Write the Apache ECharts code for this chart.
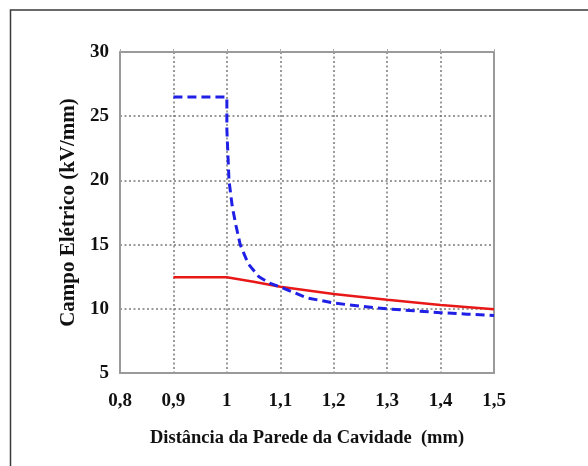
<!DOCTYPE html>
<html>
<head>
<meta charset="utf-8">
<script src="https://cdn.jsdelivr.net/npm/echarts@6/dist/echarts.min.js"></script>
<style>
  html, body { margin: 0; padding: 0; background: #fff; }
  #chart { width: 588px; height: 466px; }
</style>
</head>
<body>
<div id="chart"></div>
<script>
// Distance from the cavity wall (mm) and electric field (kV/mm)
const dashedX = [0.9, 1.0, 1.0, 1.002, 1.004, 1.01, 1.017, 1.025, 1.04, 1.06, 1.08, 1.1, 1.15, 1.2, 1.25, 1.3, 1.35, 1.4, 1.45, 1.5];
const dashedY = [26.5, 26.5, 24.0, 22.0, 20.0, 18.0, 16.5, 15.0, 13.5, 12.5, 12.0, 11.7, 10.85, 10.45, 10.2, 10.0, 9.85, 9.7, 9.58, 9.48];
const solidX = [0.9, 1.0, 1.05, 1.1, 1.2, 1.3, 1.4, 1.5];
const solidY = [12.45, 12.45, 12.1, 11.72, 11.15, 10.7, 10.3, 9.96];
const xTicks = { min: 0.8, max: 1.5, step: 0.1 };
const yTicks = { min: 5, max: 30, step: 5 };
const xTitle = 'Distância da Parede da Cavidade  (mm)';
const yTitle = 'Campo Elétrico (kV/mm)';

const pairs = (xs, ys) => xs.map((x, i) => [x, ys[i]]);
const serif = '"Liberation Serif", "Times New Roman", serif';
const gridLine = { show: true, lineStyle: { color: '#7a7a7a', type: [2, 2.5], width: 1.5 } };

const chart = echarts.init(document.getElementById('chart'), null, { renderer: 'canvas' });
chart.setOption({
  animation: false,
  backgroundColor: '#fff',
  graphic: [{
    type: 'rect',
    shape: { x: 10.5, y: 10, width: 600, height: 500 },
    style: { fill: 'none', stroke: '#3a3a3a', lineWidth: 1.5 },
    silent: true
  }],
  grid: { left: 120, right: 94, top: 52, bottom: 93, show: false },
  xAxis: [{
    type: 'value',
    min: xTicks.min, max: xTicks.max, interval: xTicks.step,
    name: xTitle,
    nameLocation: 'middle',
    nameGap: 56,
    nameTextStyle: { fontFamily: serif, fontWeight: 'bold', fontSize: 18.5, color: '#111' },
    axisLine: { show: true, onZero: false, lineStyle: { color: '#9a9a9a', width: 2 } },
    axisTick: { show: false },
    axisLabel: {
      margin: 19, fontFamily: serif, fontWeight: 'bold', fontSize: 19, color: '#111',
      formatter: v => String(+v.toFixed(1)).replace('.', ',')
    },
    splitLine: gridLine
  }, {
    type: 'value', position: 'top',
    min: xTicks.min, max: xTicks.max, interval: xTicks.step,
    axisLine: { show: true, lineStyle: { color: '#9a9a9a', width: 2 } },
    axisTick: { show: true, length: 3, lineStyle: { color: '#aaa', width: 1 } },
    axisLabel: { show: false },
    splitLine: { show: false }
  }],
  yAxis: [{
    type: 'value',
    min: yTicks.min, max: yTicks.max, interval: yTicks.step,
    name: yTitle,
    nameLocation: 'middle',
    nameGap: 40,
    nameRotate: 90,
    nameTextStyle: { fontFamily: serif, fontWeight: 'bold', fontSize: 21, color: '#111' },
    axisLine: { show: true, lineStyle: { color: '#9a9a9a', width: 2 } },
    axisTick: { show: false },
    axisLabel: { margin: 11, fontFamily: serif, fontWeight: 'bold', fontSize: 19, color: '#111' },
    splitLine: gridLine
  }, {
    type: 'value', position: 'right',
    min: yTicks.min, max: yTicks.max, interval: yTicks.step,
    axisLine: { show: true, lineStyle: { color: '#9a9a9a', width: 2 } },
    axisTick: { show: false },
    axisLabel: { show: false },
    splitLine: { show: false }
  }],
  series: [{
    type: 'line',
    data: pairs(solidX, solidY),
    showSymbol: false,
    smooth: false,
    lineStyle: { color: '#e81818', width: 2.5 },
    z: 3
  }, {
    type: 'line',
    data: pairs(dashedX, dashedY),
    showSymbol: false,
    smooth: false,
    lineStyle: { color: '#1f1fe6', width: 3, type: [9, 5] },
    z: 4
  }]
});
</script>
</body>
</html>
